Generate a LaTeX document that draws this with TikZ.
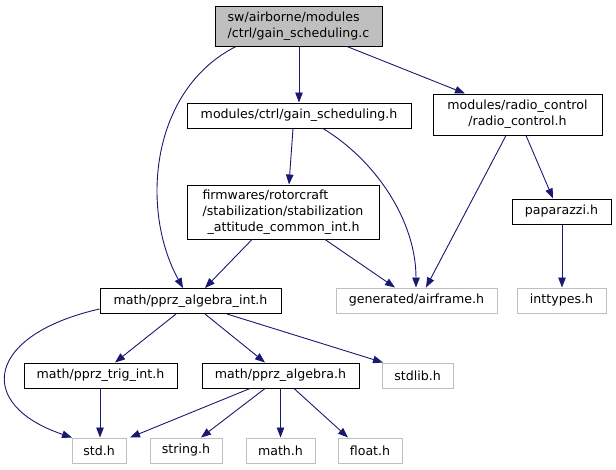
\documentclass[tikz,border=0pt]{standalone}
\usepackage{fontspec}
\setmainfont{DejaVu Sans}
\usetikzlibrary{arrows.meta}
\definecolor{edgeblue}{HTML}{191970}
\definecolor{lightbd}{HTML}{BFBFBF}
\tikzset{
  box/.style={draw=black, line width=1pt, inner sep=0pt, minimum height=25pt, font=\fontsize{12.6}{16}\selectfont},
  extbox/.style={box, draw=lightbd},
  edge/.style={draw=edgeblue, line width=0.9pt, -{Triangle[length=10pt,width=7.5pt]}},
}
\begin{document}
\begin{tikzpicture}[x=1pt,y=-1pt]
\useasboundingbox (0,0) rectangle (616,469);
% nodes
\node[box, fill=black!25, minimum width=167pt, minimum height=40pt, align=left] (top) at (298.5,26) {sw/airborne/modules\\/ctrl/gain\_scheduling.c};
\node[box, minimum width=224pt] (gs) at (299,115.5) {modules/ctrl/gain\_scheduling.h};
\node[box, minimum width=169pt, minimum height=41pt, align=center] (rc) at (517.5,114.5) {modules/radio\_control\\/radio\_control.h};
\node[box, minimum width=192pt, minimum height=54pt, align=left] (stab) at (283,212) {firmwares/rotorcraft\\/stabilization/stabilization\\\hspace*{5pt}\_attitude\_common\_int.h};
\node[box, minimum width=99pt] (pap) at (561.5,211.5) {paparazzi.h};
\node[box, minimum width=181pt] (pai) at (190.5,301) {math/pprz\_algebra\_int.h};
\node[extbox, minimum width=161pt] (air) at (416.5,300.5) {generated/airframe.h};
\node[extbox, minimum width=89pt] (int) at (561.5,300.5) {inttypes.h};
\node[box, minimum width=153pt] (trig) at (100.5,375.5) {math/pprz\_trig\_int.h};
\node[box, minimum width=157pt] (pa) at (280.5,375.5) {math/pprz\_algebra.h};
\node[extbox, minimum width=71pt] (stdlib) at (417.5,375.5) {stdlib.h};
\node[extbox, minimum width=54pt] (std) at (99,450.5) {std.h};
\node[extbox, minimum width=72pt] (str) at (186,450.5) {string.h};
\node[extbox, minimum width=69pt] (math) at (280.5,450.5) {math.h};
\node[extbox, minimum width=64pt] (float) at (370,450.5) {float.h};
% edges
\draw[edge] ([xshift=-62.5pt]top.south) .. controls (150,90) and (140,210) .. ([xshift=-7.5pt]pai.north);
\draw[edge] ([xshift=0.5pt]top.south) -- ([xshift=0pt]gs.north);
\draw[edge] ([xshift=48.5pt]top.south) -- ([xshift=-52.5pt]rc.north);
\draw[edge] ([xshift=-6pt]gs.south) -- ([xshift=6pt]stab.north);
\draw[edge] ([xshift=24pt]gs.south) .. controls (375,160) and (416,220) .. ([xshift=-0.5pt]air.north);
\draw[edge] ([xshift=-11.5pt]rc.south) -- ([xshift=9.5pt]air.north);
\draw[edge] ([xshift=8.5pt]rc.south) -- ([xshift=-8.5pt]pap.north);
\draw[edge] ([xshift=-31pt]stab.south) -- ([xshift=14.5pt]pai.north);
\draw[edge] ([xshift=42pt]stab.south) -- ([xshift=-21.5pt]air.north);
\draw[edge] ([xshift=0.5pt]pap.south) -- ([xshift=0.5pt]int.north);
\draw[edge] ([yshift=-8pt]pai.west) .. controls (-15,335) and (-25,405) .. ([xshift=-27pt]std.north);
\draw[edge] ([xshift=-14.5pt]pai.south) -- ([xshift=14.5pt]trig.north);
\draw[edge] ([xshift=14.5pt]pai.south) -- ([xshift=-15.5pt]pa.north);
\draw[edge] ([xshift=36.5pt]pai.south) -- ([xshift=-34.5pt]stdlib.north);
\draw[edge] ([xshift=-0.5pt]trig.south) -- ([xshift=1pt]std.north);
\draw[edge] ([xshift=-30.5pt]pa.south) -- ([xshift=31pt]std.north);
\draw[edge] ([xshift=-15.5pt]pa.south) -- ([xshift=15pt]str.north);
\draw[edge] (pa.south) -- (math.north);
\draw[edge] ([xshift=13.5pt]pa.south) -- ([xshift=-22pt]float.north);
\end{tikzpicture}
\end{document}
